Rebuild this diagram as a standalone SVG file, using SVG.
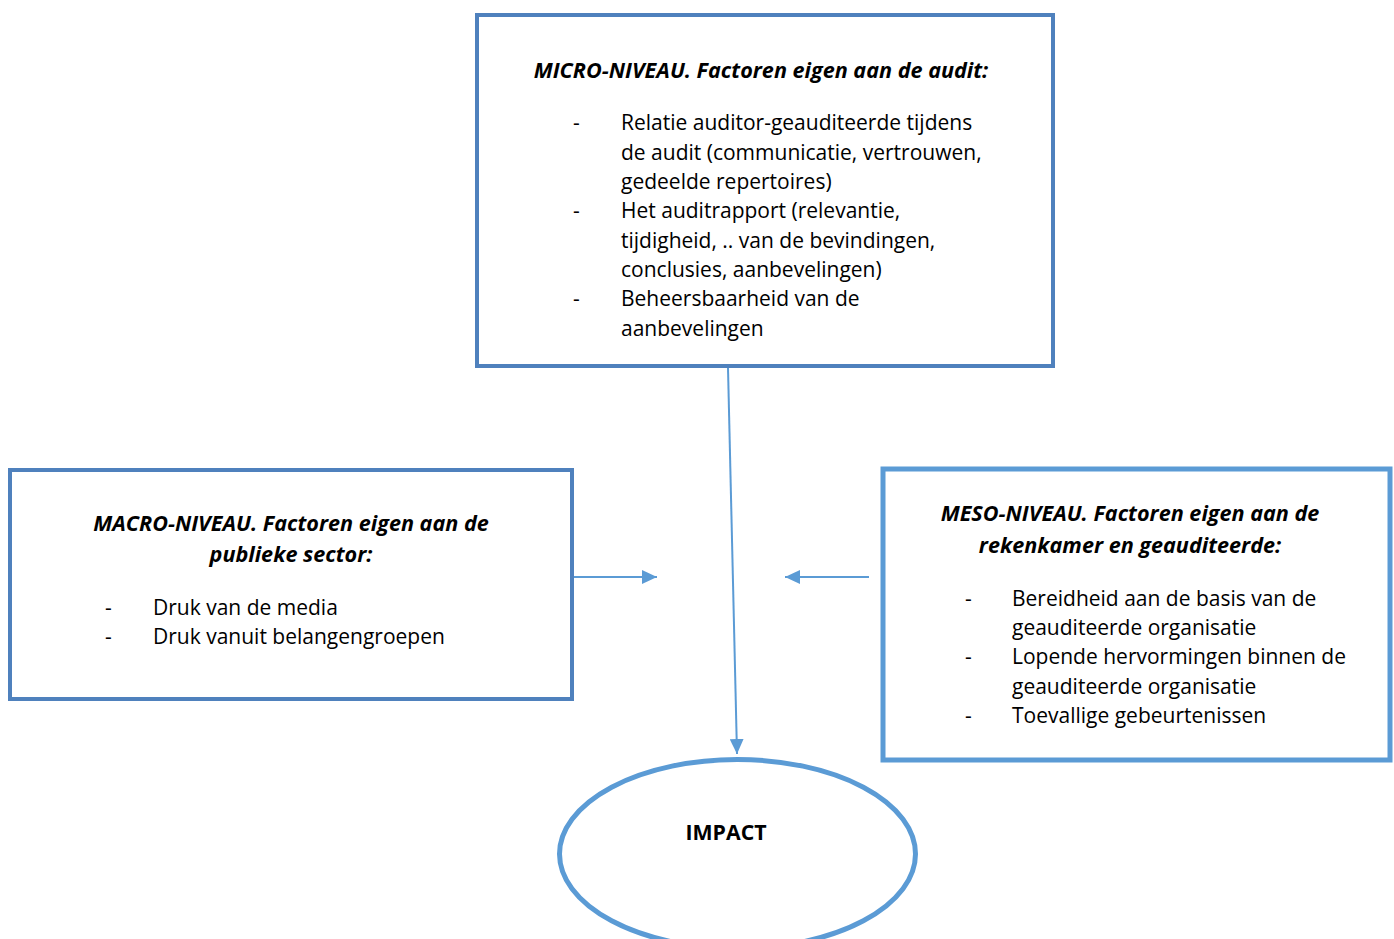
<svg xmlns="http://www.w3.org/2000/svg" width="1394" height="939" viewBox="0 0 1394 939">
<style>
.box{fill:#fff;stroke:#4F81BD;stroke-width:4}
.box2{fill:#fff;stroke:#5B9BD5;stroke-width:5}
.t{font-family:"Open Sans","Liberation Sans",sans-serif;font-size:21px;fill:#000}
.h{font-family:"Open Sans","Liberation Sans",sans-serif;font-size:21.6px;font-weight:bold;font-style:italic;fill:#000;text-anchor:middle}
.b{font-family:"Open Sans","Liberation Sans",sans-serif;font-size:21.3px;font-weight:bold;fill:#000;text-anchor:middle}
.c{stroke:#5B9BD5;stroke-width:2;fill:none}
</style>
<defs>
<marker id="ah" markerUnits="userSpaceOnUse" markerWidth="16" markerHeight="14" refX="15" refY="7" orient="auto">
<path d="M0,0 L15,7 L0,14 Z" fill="#5B9BD5"/>
</marker>
</defs>
<rect width="1394" height="939" fill="#fff"/>
<g id="connectors">
<line class="c" x1="728" y1="368" x2="737" y2="754" marker-end="url(#ah)"/>
<line class="c" x1="574" y1="577" x2="657" y2="577" marker-end="url(#ah)"/>
<line class="c" x1="869" y1="577" x2="785" y2="577" marker-end="url(#ah)"/>
</g>
<g id="micro">
<rect class="box" x="477" y="15" width="576" height="351"/>
<text class="h" x="761" y="78">MICRO-NIVEAU. Factoren eigen aan de audit:</text>
<text class="t" x="573" y="130">-</text>
<text class="t" x="573" y="218">-</text>
<text class="t" x="573" y="306">-</text>
<text class="t" x="621" y="130">Relatie auditor-geauditeerde tijdens</text>
<text class="t" x="621" y="160">de audit (communicatie, vertrouwen,</text>
<text class="t" x="621" y="189">gedeelde repertoires)</text>
<text class="t" x="621" y="218">Het auditrapport (relevantie,</text>
<text class="t" x="621" y="248">tijdigheid, .. van de bevindingen,</text>
<text class="t" x="621" y="277">conclusies, aanbevelingen)</text>
<text class="t" x="621" y="306">Beheersbaarheid van de</text>
<text class="t" x="621" y="336">aanbevelingen</text>
</g>
<g id="macro">
<rect class="box" x="10" y="470" width="562" height="229"/>
<text class="h" x="291" y="531">MACRO-NIVEAU. Factoren eigen aan de</text>
<text class="h" x="291" y="562">publieke sector:</text>
<text class="t" x="105" y="615">-</text>
<text class="t" x="105" y="644">-</text>
<text class="t" x="153" y="615">Druk van de media</text>
<text class="t" x="153" y="644">Druk vanuit belangengroepen</text>
</g>
<g id="meso">
<rect class="box2" x="883" y="469" width="507" height="291"/>
<text class="h" x="1130" y="521">MESO-NIVEAU. Factoren eigen aan de</text>
<text class="h" x="1130" y="553">rekenkamer en geauditeerde:</text>
<text class="t" x="965" y="606">-</text>
<text class="t" x="965" y="664">-</text>
<text class="t" x="965" y="723">-</text>
<text class="t" x="1012" y="606">Bereidheid aan de basis van de</text>
<text class="t" x="1012" y="635">geauditeerde organisatie</text>
<text class="t" x="1012" y="664">Lopende hervormingen binnen de</text>
<text class="t" x="1012" y="694">geauditeerde organisatie</text>
<text class="t" x="1012" y="723">Toevallige gebeurtenissen</text>
</g>
<g id="impact">
<ellipse cx="737.5" cy="854" rx="178" ry="94.5" fill="#fff" stroke="#5B9BD5" stroke-width="5"/>
<text class="b" x="726" y="840">IMPACT</text>
</g>
</svg>
